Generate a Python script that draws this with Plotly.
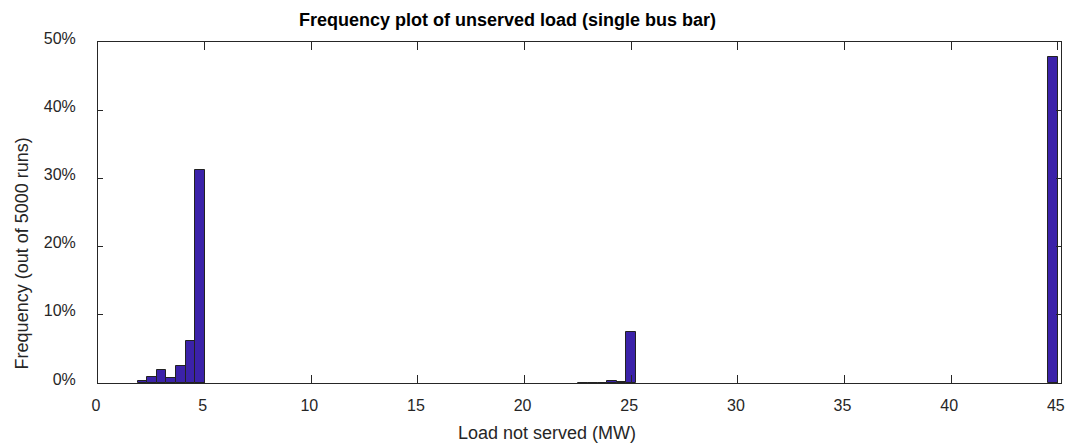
import plotly.graph_objects as go

# Histogram data: bin centres (MW) of non-empty bins and their frequency (% of 5000 runs)
bin_centers = [2.08, 2.53, 2.98, 3.43, 3.88, 4.33, 4.78,
               22.75, 23.20, 23.65, 24.10, 24.55, 25.00,
               44.78]
freq_pct = [0.3, 0.9, 1.9, 0.7, 2.5, 6.2, 31.3,
            0.04, 0.04, 0.06, 0.3, 0.12, 7.5,
            47.8]
bin_width = 0.449

x_ticks = [0, 5, 10, 15, 20, 25, 30, 35, 40, 45]
y_ticks = [0, 10, 20, 30, 40, 50]
y_tick_labels = ["0%", "10%", "20%", "30%", "40%", "50%"]

title_text = "Frequency plot of unserved load (single bus bar)"
x_title = "Load not served (MW)"
y_title = "Frequency (out of 5000 runs)"

FONT = "Liberation Sans, Arial, Helvetica, sans-serif"
AX = "#262626"

fig = go.Figure()
fig.add_trace(go.Bar(
    x=bin_centers, y=freq_pct, width=bin_width,
    marker=dict(color="#3b22a9", line=dict(color="#222222", width=1)),
    showlegend=False,
))

fig.update_layout(
    width=1072, height=444,
    margin=dict(l=98, r=7, t=42, b=61),
    paper_bgcolor="white", plot_bgcolor="white",
    font=dict(family=FONT, size=16, color=AX),
    bargap=0,
)

fig.add_annotation(text="<b>" + title_text + "</b>", xref="paper", yref="paper",
                   x=0.425, y=1.0645, xanchor="center", yanchor="middle",
                   showarrow=False, font=dict(family=FONT, size=18, color="black"))
fig.add_annotation(text=x_title, xref="paper", yref="paper",
                   x=0.4664, y=-0.1466, xanchor="center", yanchor="middle",
                   showarrow=False, font=dict(family=FONT, size=18, color=AX))
fig.add_annotation(text=y_title, xref="paper", yref="paper", textangle=-90,
                   x=-0.0786, y=0.381, xanchor="center", yanchor="middle",
                   showarrow=False, font=dict(family=FONT, size=18, color=AX))

fig.update_xaxes(
    range=[0, 45.15], tickvals=x_ticks,
    showline=True, linecolor=AX, linewidth=1, mirror="ticks",
    ticks="inside", ticklen=8, tickcolor=AX,
    showgrid=False, zeroline=False,
    ticklabelstandoff=8, ticklabelshift=-2,
)
fig.update_yaxes(
    range=[0, 50], tickvals=y_ticks, ticktext=y_tick_labels,
    showline=True, linecolor=AX, linewidth=1, mirror="ticks",
    ticks="inside", ticklen=5, tickcolor=AX,
    showgrid=False, zeroline=False,
    ticklabelstandoff=18, ticklabelshift=-4,
)

fig.write_html("out.html")
